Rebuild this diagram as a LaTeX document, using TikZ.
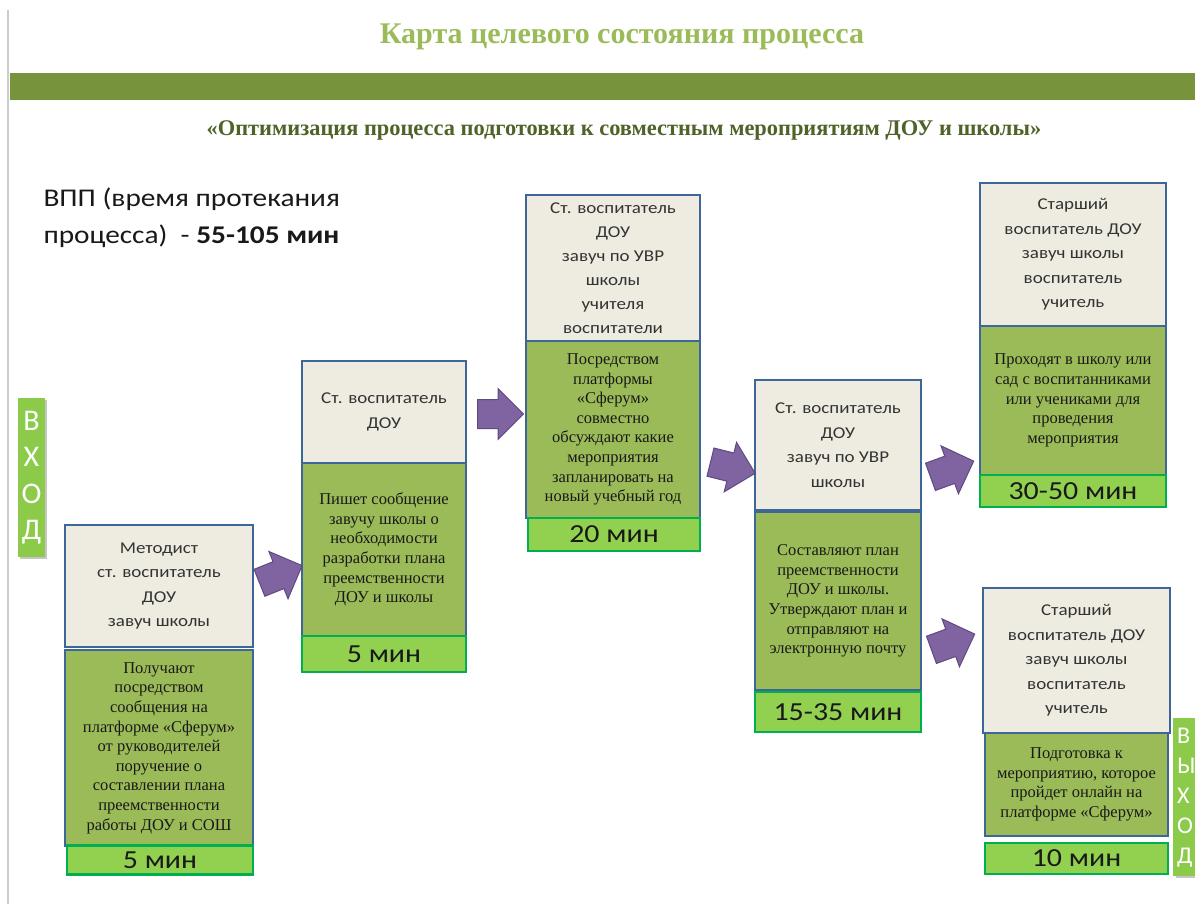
\documentclass[tikz,border=0pt]{standalone}
\usepackage{fontspec}
\setmainfont{Liberation Serif}
\newfontfamily\calibri{Carlito}
\newfontfamily\calibriwide[FakeStretch=1.15]{Carlito}
\usepackage{tikz}
\usetikzlibrary{shapes.arrows, shadows}
\usepackage{xcolor}

\definecolor{rolefill}{HTML}{EEECE1}
\definecolor{taskfill}{HTML}{9BBB59}
\definecolor{timefill}{HTML}{92D050}
\definecolor{boxline}{HTML}{3F6698}
\definecolor{timeline}{HTML}{00B050}
\definecolor{arrowfill}{HTML}{8064A2}
\definecolor{arrowline}{HTML}{5E4A80}
\definecolor{bandgreen}{HTML}{77933C}
\definecolor{titlegreen}{HTML}{9BBB59}
\definecolor{subgreen}{HTML}{4F6228}
\definecolor{sidegreen}{HTML}{8CCB4A}

\begin{document}
\begin{tikzpicture}[x=1pt, y=-1pt,
  role/.style={draw=boxline, line width=2.5pt, fill=rolefill, align=center, inner sep=0pt,
    text=black!80, font=\calibriwide\fontsize{16.5}{24.5}\selectfont},
  task/.style={draw=boxline, line width=2.5pt, fill=taskfill, align=center, inner sep=0pt,
    text=black!90, font=\fontsize{16.5}{19.6}\selectfont},
  timebox/.style={draw=timeline, line width=2.5pt, fill=timefill, inner sep=0pt,
    text=black!90, font=\calibriwide\fontsize{26}{26}\selectfont},
  flow/.style={single arrow, fill=arrowfill, draw=arrowline, line width=1pt, anchor=tail,
    minimum height=46pt, inner xsep=4pt, inner ysep=14pt, single arrow head extend=11pt},
  sidebar/.style={fill=sidegreen, text=white, drop shadow={opacity=0.45}, inner sep=0pt}]

\useasboundingbox (0,0) rectangle (1195,904);

% Page frame and header
\draw[gray!40, line width=1.5pt] (8,10) -- (8,904);
\fill[bandgreen] (10,73) rectangle (1195,100);
\node[font=\bfseries\fontsize{30}{32}\selectfont, text=titlegreen] (title) at (622,37)
  {Карта целевого состояния процесса};
\node[font=\bfseries\fontsize{22.4}{24}\selectfont, text=subgreen] (subtitle) at (624,130)
  {«Оптимизация процесса подготовки к совместным мероприятиям ДОУ и школы»};

% Process duration
\node[anchor=west, align=left, font=\calibriwide\fontsize{25.5}{37}\selectfont, text=black!90] (vpp) at (40,218)
  {ВПП (время протекания\\процесса)\ \ - \textbf{55-105 мин}};

% Entry and exit bars
\node[sidebar, minimum width=27pt, minimum height=159pt, align=center,
  font=\calibri\fontsize{30}{36.5}\selectfont] (entry) at (31.5,477.5) {В\\Х\\О\\Д};
\node[sidebar, anchor=north west, minimum height=158pt, text width=30pt, inner xsep=4pt, align=left,
  font=\calibri\fontsize{24}{30}\selectfont] (exit) at (1173,718) {В\\Ы\\Х\\О\\Д};

% Step 1
\node[task, minimum width=188pt, minimum height=196pt] (task_a) at (159,748)
  {Получают\\посредством\\сообщения на\\платформе «Сферум»\\от руководителей\\поручение о\\составлении плана\\преемственности\\работы ДОУ и СОШ};
\node[role, minimum width=188pt, minimum height=122pt] (role_a) at (159,586)
  {Методист\\ст. воспитатель\\ДОУ\\завуч школы};
\node[timebox, minimum width=186pt, minimum height=29pt] (time_a) at (160,860) {5 мин};

% Step 2
\node[task, minimum width=164pt, minimum height=173pt] (task_b) at (384,549.5)
  {Пишет сообщение\\завучу школы о\\необходимости\\разработки плана\\преемственности\\ДОУ и школы};
\node[role, minimum width=164pt, minimum height=102pt] (role_b) at (384,412)
  {Ст. воспитатель\\ДОУ};
\node[timebox, minimum width=164pt, minimum height=36pt] (time_b) at (384,654) {5 мин};

% Step 3
\node[task, minimum width=174pt, minimum height=177pt] (task_c) at (613,429.5)
  {Посредством\\платформы\\«Сферум»\\совместно\\обсуждают какие\\мероприятия\\запланировать на\\новый учебный год};
\node[role, minimum width=174pt, minimum height=146pt, font=\calibriwide\fontsize{16.5}{24}\selectfont] (role_c) at (613,268)
  {Ст. воспитатель\\ДОУ\\завуч по УВР\\школы\\учителя\\воспитатели};
\node[timebox, minimum width=172pt, minimum height=33pt] (time_c) at (614,534.5) {20 мин};

% Step 4
\node[task, minimum width=166pt, minimum height=178pt] (task_d) at (838,601)
  {Составляют план\\преемственности\\ДОУ и школы.\\Утверждают план и\\отправляют на\\электронную почту};
\node[role, minimum width=166pt, minimum height=130pt] (role_d) at (838,445)
  {Ст. воспитатель\\ДОУ\\завуч по УВР\\школы};
\node[timebox, minimum width=166pt, minimum height=40pt] (time_d) at (838,712) {15-35 мин};

% Step 5 (visit)
\node[task, minimum width=186pt, minimum height=149pt] (task_e) at (1073,400.5)
  {Проходят в школу или\\сад с воспитанниками\\или учениками для\\проведения\\мероприятия};
\node[role, minimum width=186pt, minimum height=143pt] (role_e) at (1073,254.5)
  {Старший\\воспитатель ДОУ\\завуч школы\\воспитатель\\учитель};
\node[timebox, minimum width=186pt, minimum height=32pt] (time_e) at (1073,491) {30-50 мин};

% Step 5 (online)
\node[task, minimum width=183pt, minimum height=103pt] (task_f) at (1076.5,784.5)
  {Подготовка к\\мероприятию, которое\\пройдет онлайн на\\платформе «Сферум»};
\node[role, minimum width=187pt, minimum height=145pt] (role_f) at (1076.5,660.5)
  {Старший\\воспитатель ДОУ\\завуч школы\\воспитатель\\учитель};
\node[timebox, minimum width=183pt, minimum height=31pt] (time_f) at (1076.5,858.5) {10 мин};

% Transition arrows
\node[flow, rotate=22] (arrow_ab) at (259,583) {};
\node[flow] (arrow_bc) at (477,414) {};
\node[flow, rotate=-14] (arrow_cd) at (710,462) {};
\node[flow, rotate=20] (arrow_de) at (930,477) {};
\node[flow, rotate=20] (arrow_df) at (931,650) {};

\end{tikzpicture}
\end{document}
